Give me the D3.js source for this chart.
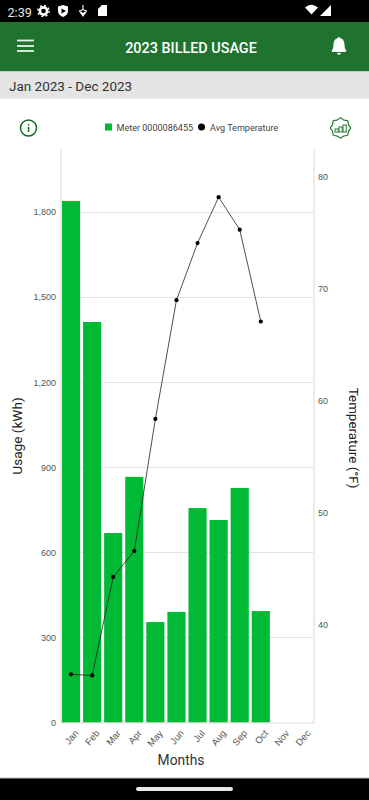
<!DOCTYPE html>
<html>
<head>
<meta charset="utf-8">
<script src="https://cdn.jsdelivr.net/npm/d3@7"></script>
<style>
html, body { margin: 0; padding: 0; background: #fff; }
svg { display: block; font-family: Roboto, sans-serif; }
</style>
</head>
<body>
<svg id="chart" width="369" height="800"></svg>
<script>
var months = ["Jan","Feb","Mar","Apr","May","Jun","Jul","Aug","Sep","Oct","Nov","Dec"];
var usageMonths = ["Jan","Feb","Mar","Apr","May","Jun","Jul","Aug","Sep","Oct"];
var usage = [1839, 1412, 668, 866, 354, 390, 756, 714, 827, 393];
var temps = [35.6, 35.5, 44.3, 46.6, 58.4, 69, 74.1, 78.2, 75.3, 67.1];
var usageTicks = [0, 300, 600, 900, 1200, 1500, 1800];
var tempTicks = [40, 50, 60, 70, 80];

var svg = d3.select("#chart");
var green = "#1f732f", barGreen = "#00b934", axisGrey = "#d9d9d9", iconGreen = "#0f6b1e";
var tickFont = "'Liberation Sans', Arial, sans-serif";

// phone chrome
svg.append("rect").attr("width", 369).attr("height", 800).attr("fill", "#fff");
svg.append("rect").attr("width", 369).attr("height", 22).attr("fill", "#000");
svg.append("rect").attr("y", 22).attr("width", 369).attr("height", 49.5).attr("fill", green);
svg.append("rect").attr("y", 71.5).attr("width", 369).attr("height", 27).attr("fill", "#e4e4e4");
svg.append("rect").attr("y", 98).attr("width", 369).attr("height", 1).attr("fill", "#eeeeee");
svg.append("rect").attr("y", 778).attr("width", 369).attr("height", 22).attr("fill", "#000");
svg.append("rect").attr("y", 777.5).attr("width", 369).attr("height", 1).attr("fill", "#bbb");
svg.append("rect").attr("x", 136).attr("y", 787).attr("width", 97).attr("height", 4).attr("rx", 2).attr("fill", "#e8e8e8");

svg.append("text").attr("x", 7.5).attr("y", 16.5).attr("font-size", 12.6).attr("fill", "#e6e6e6").text("2:39");

// status icons
var statusIcons = svg.append("g").attr("fill", "#fff");
statusIcons.append("circle").attr("cx", 43.5).attr("cy", 11).attr("r", 3.6).attr("fill", "none").attr("stroke", "#fff").attr("stroke-width", 2.6);
statusIcons.append("circle").attr("cx", 43.5).attr("cy", 11).attr("r", 5.6).attr("fill", "none").attr("stroke", "#fff").attr("stroke-width", 1.4).attr("stroke-dasharray", "2 2.4");
statusIcons.append("path").attr("d", "M58 6.5 L63 5 L68 6.5 V11 C68 14 66 16 63 17 C60 16 58 14 58 11 Z");
statusIcons.append("path").attr("d", "M61.5 8.5 L66 11 L61.5 13.5 Z").attr("fill", "#000");
statusIcons.append("path").attr("d", "M83 5 V9 M79.5 11 L83 9.5 L86.5 11 L83 16 Z M81 12 L83 14 L85 12").attr("fill", "none").attr("stroke", "#fff").attr("stroke-width", 1.1);
statusIcons.append("path").attr("d", "M102 5 H107 V16 H98 V9 Z");
statusIcons.append("path").attr("d", "M305 9 Q311 3.5 318 9 L311.5 16 Z").attr("transform", "translate(0,-1.5)");
statusIcons.append("path").attr("d", "M320 16 L331 5 V16 Z");

// app bar
var menu = svg.append("g").attr("stroke", "#e9f1ea").attr("stroke-width", 1.8);
[40.5, 46, 51].forEach(function(y){
	menu.append("line").attr("x1", 17).attr("x2", 34).attr("y1", y).attr("y2", y);
});
svg.append("text").attr("x", 191).attr("y", 52.5).attr("text-anchor", "middle").attr("font-size", 14.4)
	.attr("font-weight", 500).attr("fill", "#fff").text("2023 BILLED USAGE");
svg.append("path").attr("fill", "#fff").attr("transform", "translate(-0.5,0)")
	.attr("d", "M338.5 38 C338.5 36.5 340.5 36.5 340.5 38 C344 39 345 42 345 45 C345 48 346 49.5 346.5 50 C347 51 346.5 52 345.5 52 H333.5 C332.5 52 332 51 332.5 50 C333 49.5 334 48 334 45 C334 42 335 39 338.5 38 Z M337.5 53 H341.5 C341.5 55.2 337.5 55.2 337.5 53 Z");

svg.append("text").attr("x", 9).attr("y", 91).attr("font-size", 13.5).attr("fill", "#333").text("Jan 2023 - Dec 2023");

// info icon
svg.append("circle").attr("cx", 28.5).attr("cy", 128).attr("r", 8).attr("fill", "none").attr("stroke", iconGreen).attr("stroke-width", 1.5);
svg.append("rect").attr("x", 27.8).attr("y", 127).attr("width", 1.5).attr("height", 5).attr("fill", iconGreen);
svg.append("rect").attr("x", 27.8).attr("y", 124).attr("width", 1.5).attr("height", 1.5).attr("fill", iconGreen);

// settings chart icon
var gear = svg.append("g").attr("transform", "translate(340.5,128)");
var gearOutline = d3.lineRadial().curve(d3.curveCardinalClosed.tension(0.4))
	.angle(function(d){ return d * Math.PI / 8; })
	.radius(function(d){ return d % 2 ? 8.6 : 10.2; });
gear.append("path").attr("d", gearOutline(d3.range(16))).attr("fill", "none").attr("stroke", iconGreen).attr("stroke-width", 1.1);
[[-5.5, 1, 3], [-1.5, -1, 5], [2.5, -3, 7]].forEach(function(b){
	gear.append("rect").attr("x", b[0]).attr("y", b[1]).attr("width", 3.2).attr("height", b[2])
		.attr("fill", "none").attr("stroke", iconGreen).attr("stroke-width", 0.9);
});

// legend
svg.append("rect").attr("x", 105).attr("y", 123.5).attr("width", 7).attr("height", 7).attr("fill", barGreen);
svg.append("text").attr("x", 116.5).attr("y", 131).attr("font-size", 9.05).attr("fill", "#444").text("Meter 0000086455");
svg.append("circle").attr("cx", 201.5).attr("cy", 127).attr("r", 3.5).attr("fill", "#000");
svg.append("text").attr("x", 210).attr("y", 131).attr("font-size", 9.05).attr("fill", "#444").text("Avg Temperature");

// scales
var chartLeft = 60.5, chartRight = 313.5, chartTop = 149, chartBottom = 722.5;
var x = d3.scaleBand().domain(months).range([chartLeft, chartRight]).paddingInner(0.14).paddingOuter(0.07);
var yUsage = d3.scaleLinear().domain([0, 2022]).range([chartBottom, chartTop]);
var yTemp = d3.scaleLinear().domain([31.3, 82.5]).range([chartBottom, chartTop]);

// gridlines
svg.append("g").selectAll("line").data(usageTicks.slice(1)).join("line")
	.attr("x1", chartLeft).attr("x2", chartRight)
	.attr("y1", function(d){ return Math.round(yUsage(d)) + 0.5; })
	.attr("y2", function(d){ return Math.round(yUsage(d)) + 0.5; })
	.attr("stroke", "#e3e3e3").attr("stroke-width", 1);

// bars
svg.append("g").selectAll("rect").data(usage).join("rect")
	.attr("x", function(d, i){ return x(usageMonths[i]); })
	.attr("y", function(d){ return yUsage(d); })
	.attr("width", x.bandwidth())
	.attr("height", function(d){ return chartBottom - yUsage(d); })
	.attr("fill", barGreen);

// axes
var axisLeft = svg.append("g").attr("transform", "translate(" + chartLeft + ",0)")
	.call(d3.axisLeft(yUsage).tickValues(usageTicks).tickFormat(d3.format(",")).tickSize(0).tickPadding(4.5));
var axisRight = svg.append("g").attr("transform", "translate(" + chartRight + ",0)")
	.call(d3.axisRight(yTemp).tickValues(tempTicks).tickSize(0).tickPadding(4.5));
var axisBottom = svg.append("g").attr("transform", "translate(0," + chartBottom + ")")
	.call(d3.axisBottom(x).tickSize(0).tickPadding(0));
[axisLeft, axisRight, axisBottom].forEach(function(a){
	a.select(".domain").attr("stroke", axisGrey).attr("stroke-width", 1);
	a.selectAll("text").attr("font-family", tickFont).attr("font-size", 9).attr("fill", "#555");
});
axisBottom.selectAll("text")
	.attr("font-size", 9.5).attr("text-anchor", "end").attr("dy", 0).attr("y", 0)
	.attr("transform", "translate(8,11) rotate(-50)");

// temperature line
var tempLine = d3.line()
	.x(function(d, i){ return x(usageMonths[i]) + x.bandwidth() / 2; })
	.y(function(d){ return yTemp(d); });
svg.append("path").attr("d", tempLine(temps)).attr("fill", "none").attr("stroke", "#222").attr("stroke-width", 0.8);
svg.append("g").selectAll("circle").data(temps).join("circle")
	.attr("cx", function(d, i){ return x(usageMonths[i]) + x.bandwidth() / 2; })
	.attr("cy", function(d){ return yTemp(d); })
	.attr("r", 2.1).attr("fill", "#000");

// axis titles
svg.append("text").attr("x", 181).attr("y", 765).attr("text-anchor", "middle").attr("font-size", 13.8).attr("fill", "#333").text("Months");
svg.append("text").attr("transform", "translate(22,436) rotate(-90)").attr("text-anchor", "middle").attr("font-size", 13.6).attr("fill", "#222").text("Usage (kWh)");
svg.append("text").attr("transform", "translate(349,438) rotate(90)").attr("text-anchor", "middle").attr("font-size", 13.4).attr("fill", "#222").text("Temperature (°F)");
</script>
</body>
</html>
